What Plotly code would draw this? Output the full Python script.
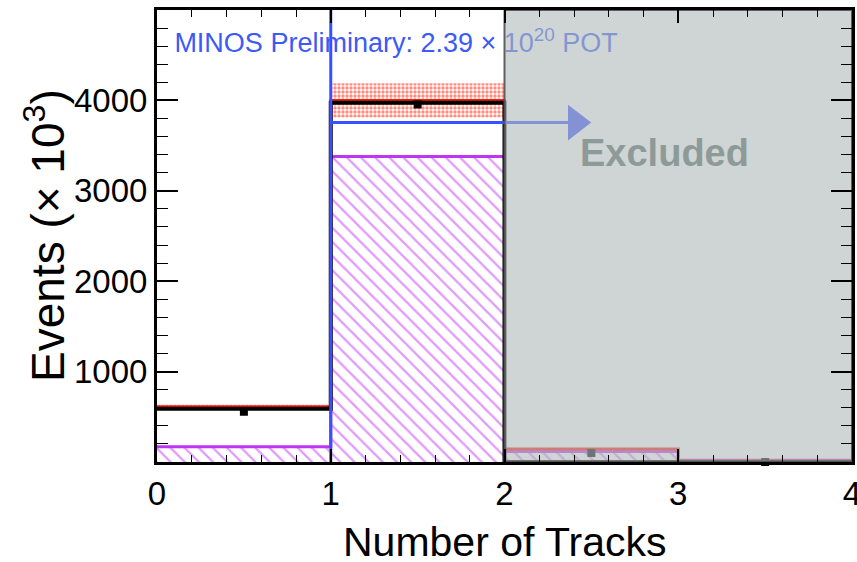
import plotly.graph_objects as go

# ---------------- data ----------------
bin_edges = [0, 1, 2, 3, 4]
bin_centers = [0.5, 1.5, 2.5, 3.5]
data_counts = [556, 3955, 100, 0]
data_errors = [12, 20, 10, 4]
mc_nominal = [612, 4000, 144, 12]
mc_band_low = [590, 3810, 132, 8]
mc_band_high = [634, 4190, 156, 16]
mc_best = [590, 3975, 0, 0]
component = [170, 3380, 116, 18]
cut_x = 1
cut_level = 3755
excluded_from = 2
x_max = 4
y_max = 5000
arrow_end = 2.41
x_ticks = [0, 1, 2, 3, 4]
y_ticks = [1000, 2000, 3000, 4000]
label_pos = (0.1, 4610)
excluded_pos = (2.92, 3420)

FONT = "Liberation Sans, Arial, sans-serif"
RED = "#FF1A00"
MAG = "#C035F5"
BLUE = "#3850FF"


def step(vals):
    return bin_edges, list(vals) + [vals[-1]]


fig = go.Figure()

# hatched component
fig.add_trace(go.Bar(
    x=bin_centers, y=component, width=1,
    marker=dict(color="rgba(255,255,255,0)", line=dict(width=0),
                pattern=dict(shape="\\", fgcolor=MAG, size=10, solidity=0.22)),
    showlegend=False, hoverinfo="skip"))

# red dotted error band
band_h = [h - l for h, l in zip(mc_band_high, mc_band_low)]
fig.add_trace(go.Bar(
    x=bin_centers, y=band_h, base=mc_band_low, width=1,
    marker=dict(color="rgba(255,255,255,0)", line=dict(width=0),
                pattern=dict(shape=".", fgcolor=RED, size=4, solidity=0.55)),
    showlegend=False, hoverinfo="skip"))

fig.update_layout(barmode="overlay")

# component outline
sx, sy = step(component)
fig.add_trace(go.Scatter(x=sx, y=sy, mode="lines", line=dict(color=MAG, width=3, shape="hv"),
                         showlegend=False, hoverinfo="skip"))
# red nominal
sx, sy = step(mc_nominal)
fig.add_trace(go.Scatter(x=sx, y=sy, mode="lines", line=dict(color=RED, width=3, shape="hv"),
                         showlegend=False, hoverinfo="skip"))
# black best
sx, sy = step(mc_best)
fig.add_trace(go.Scatter(x=sx, y=sy, mode="lines", line=dict(color="black", width=4, shape="hv"),
                         showlegend=False, hoverinfo="skip"))

# blue cut lines
fig.add_trace(go.Scatter(x=[cut_x, cut_x], y=[0, y_max], mode="lines",
                         line=dict(color=BLUE, width=3), showlegend=False, hoverinfo="skip"))
fig.add_trace(go.Scatter(x=[cut_x, excluded_from, arrow_end], y=[cut_level] * 3, mode="lines",
                         line=dict(color=BLUE, width=3), showlegend=False, hoverinfo="skip"))
fig.add_trace(go.Scatter(x=[arrow_end], y=[cut_level], mode="markers",
                         marker=dict(symbol="triangle-right", size=31, color=BLUE, line=dict(width=0)),
                         showlegend=False, hoverinfo="skip"))

# data points
fig.add_trace(go.Scatter(x=bin_centers, y=data_counts, mode="markers",
                         marker=dict(symbol="square", size=8, color="black"),
                         error_y=dict(type="data", array=data_errors, color="black", thickness=1.5, width=3),
                         cliponaxis=False, showlegend=False, hoverinfo="skip"))

# label text (as trace so the overlay mutes it)
fig.add_trace(go.Scatter(x=[label_pos[0]], y=[label_pos[1]], mode="text",
                         text=["MINOS Preliminary: 2.39 × 10<sup>20</sup> POT"],
                         textposition="middle right",
                         textfont=dict(family=FONT, size=27, color="#3C5AF5"),
                         showlegend=False, hoverinfo="skip"))

# excluded overlay
fig.add_trace(go.Scatter(x=[excluded_from, x_max, x_max, excluded_from, excluded_from],
                         y=[0, 0, y_max, y_max, 0], mode="lines", fill="toself",
                         fillcolor="rgba(177,187,187,0.62)",
                         line=dict(color="rgba(80,80,80,0.9)", width=2),
                         showlegend=False, hoverinfo="skip"))

fig.add_annotation(x=excluded_pos[0], y=excluded_pos[1], text="<b>Excluded</b>", showarrow=False,
                   font=dict(family=FONT, size=38, color="#8E9A98"))

# axis titles
fig.add_annotation(xref="paper", yref="paper", x=0.5, y=0, yshift=-80, xanchor="center",
                   yanchor="middle", text="Number of Tracks",
                   showarrow=False, font=dict(family=FONT, size=41, color="black"))
fig.add_annotation(xref="paper", yref="paper", x=0, y=0.5, xshift=-112, textangle=-90,
                   xanchor="center", yanchor="middle",
                   text="Events (× 10<sup>3</sup>)", showarrow=False,
                   font=dict(family=FONT, size=46, color="black"))

fig.update_xaxes(range=[0, x_max], tickvals=x_ticks, ticktext=[str(v) for v in x_ticks],
                 ticks="inside", ticklen=13, tickwidth=1.5, tickcolor="black",
                 minor=dict(dtick=0.2, ticks="inside", ticklen=7, tickcolor="black", tickwidth=1.2),
                 showline=True, linecolor="black", linewidth=3, mirror="allticks",
                 showgrid=False, zeroline=False, automargin=False, ticklabeloverflow="allow",
                 tickfont=dict(family=FONT, size=33, color="black"))
fig.update_yaxes(range=[0, y_max], tickvals=y_ticks, ticktext=[str(v) for v in y_ticks],
                 ticks="inside", ticklen=21, tickwidth=1.5, tickcolor="black",
                 minor=dict(dtick=200, ticks="inside", ticklen=11, tickcolor="black", tickwidth=1.2),
                 showline=True, linecolor="black", linewidth=3, mirror="allticks",
                 showgrid=False, zeroline=False, automargin=False,
                 tickfont=dict(family=FONT, size=33, color="black"))

fig.update_layout(width=857, height=562, margin=dict(l=157, r=5, t=10, b=100),
                  paper_bgcolor="white", plot_bgcolor="white", showlegend=False)

fig.write_html("out.html", config={"displayModeBar": False},
               post_script="document.body.style.margin='0';document.body.style.overflow='hidden';")
